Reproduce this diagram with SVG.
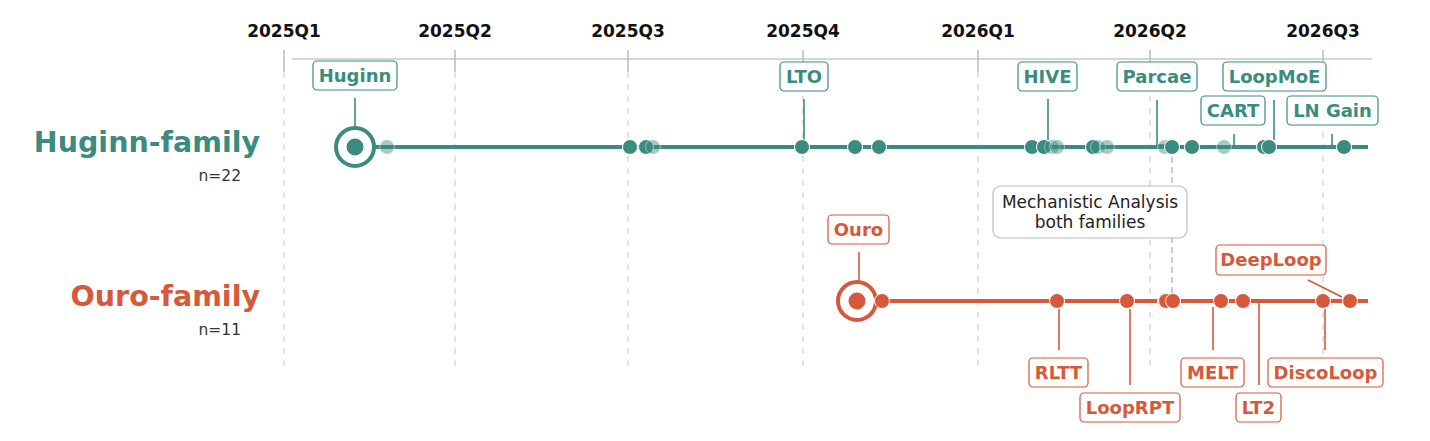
<svg xmlns="http://www.w3.org/2000/svg" width="1430" height="441" viewBox="0 0 1430 441">
<style>
text{font-family:"DejaVu Sans","Liberation Sans",sans-serif}
.q{font-size:17px;font-weight:bold;fill:#111;text-anchor:middle}
.grid{stroke:#cfcfcf;stroke-width:1.2;stroke-dasharray:6,6}
.tick{stroke:#bbb;stroke-width:1.5}
.h{fill:#3b8b7e}
.o{fill:#d5593a}
.hs{stroke:#3b8b7e}
.os{stroke:#d5593a}
.dot{stroke:#fff;stroke-width:1}
.fd{opacity:0.45}
.lbl{font-size:18px;font-weight:bold;text-anchor:middle}
.box{fill:#fff;stroke-width:1.2}
.lead{stroke-width:1.6;fill:none}
.fam{font-size:28.5px;font-weight:bold;text-anchor:end}
.n{font-size:15.5px;fill:#333;text-anchor:end}
</style>
<rect width="1430" height="441" fill="#fff"/>
<g id="axis">
<line x1="292" y1="59" x2="1372" y2="59" stroke="#c8c8c8" stroke-width="1.5"/>
<line class="tick" x1="284" y1="50" x2="284" y2="72"/>
<line class="tick" x1="455" y1="50" x2="455" y2="72"/>
<line class="tick" x1="628" y1="50" x2="628" y2="72"/>
<line class="tick" x1="803" y1="50" x2="803" y2="72"/>
<line class="tick" x1="978" y1="50" x2="978" y2="72"/>
<line class="tick" x1="1150" y1="50" x2="1150" y2="72"/>
<line class="tick" x1="1323" y1="50" x2="1323" y2="72"/>
<line class="grid" x1="284" y1="72" x2="284" y2="372"/>
<line class="grid" x1="455" y1="72" x2="455" y2="372"/>
<line class="grid" x1="628" y1="72" x2="628" y2="372"/>
<line class="grid" x1="803" y1="72" x2="803" y2="372"/>
<line class="grid" x1="978" y1="72" x2="978" y2="372"/>
<line class="grid" x1="1150" y1="72" x2="1150" y2="372"/>
<line class="grid" x1="1323" y1="72" x2="1323" y2="372"/>
<text class="q" x="284" y="37">2025Q1</text>
<text class="q" x="455" y="37">2025Q2</text>
<text class="q" x="628" y="37">2025Q3</text>
<text class="q" x="803" y="37">2025Q4</text>
<text class="q" x="978" y="37">2026Q1</text>
<text class="q" x="1150" y="37">2026Q2</text>
<text class="q" x="1323" y="37">2026Q3</text>
</g>
<g id="row-labels">
<text class="fam h" x="260" y="152">Huginn-family</text>
<text class="n" x="241" y="181">n=22</text>
<text class="fam o" x="260" y="306">Ouro-family</text>
<text class="n" x="241" y="335">n=11</text>
</g>
<g id="connectors">
<line x1="1172" y1="147" x2="1172" y2="301" stroke="#aaa" stroke-width="1.2" stroke-dasharray="6,4"/>
<line class="hs" x1="374" y1="147" x2="1368" y2="147" stroke-width="4"/>
<line class="os" x1="876" y1="301" x2="1368" y2="301" stroke-width="4"/>
<line class="lead hs" x1="355" y1="98" x2="355" y2="140"/>
<line class="lead hs" x1="804" y1="99" x2="804" y2="140"/>
<line class="lead hs" x1="1048" y1="99" x2="1048" y2="140"/>
<polyline class="lead hs" points="1157,100 1157,145 1165,145"/>
<line class="lead hs" x1="1274" y1="100" x2="1274" y2="140"/>
<line class="lead hs" x1="1234" y1="134" x2="1234" y2="147"/>
<line class="lead hs" x1="1332" y1="134" x2="1332" y2="147"/>
<line class="lead os" x1="859" y1="252" x2="859" y2="295"/>
<line class="lead os" x1="1059" y1="309" x2="1059" y2="350"/>
<line class="lead os" x1="1130" y1="309" x2="1130" y2="385"/>
<line class="lead os" x1="1213" y1="307" x2="1213" y2="350"/>
<line class="lead os" x1="1259" y1="301" x2="1259" y2="385"/>
<line class="lead os" x1="1325" y1="309" x2="1325" y2="350"/>
<line class="lead os" x1="1308" y1="280" x2="1342" y2="297"/>
</g>
<g id="huginn-dots">
<circle cx="355" cy="147" r="19" fill="#fff" class="hs" stroke-width="4"/>
<circle cx="355" cy="147" r="8.5" class="h"/>
<circle cx="387" cy="147" r="7.5" class="h dot fd"/>
<circle cx="630" cy="147" r="7.5" class="h dot"/>
<circle cx="646" cy="147" r="7.5" class="h dot"/>
<circle cx="653" cy="147" r="7.5" class="h dot fd"/>
<circle cx="802" cy="147" r="7.5" class="h dot"/>
<circle cx="855" cy="147" r="7.5" class="h dot"/>
<circle cx="879" cy="147" r="7.5" class="h dot"/>
<circle cx="1032" cy="147" r="7.5" class="h dot"/>
<circle cx="1044" cy="147" r="7.5" class="h dot"/>
<circle cx="1052" cy="147" r="7.5" class="h dot fd"/>
<circle cx="1057" cy="147" r="7.5" class="h dot fd"/>
<circle cx="1093" cy="147" r="7.5" class="h dot"/>
<circle cx="1098" cy="147" r="7.5" class="h dot fd"/>
<circle cx="1107" cy="147" r="7.5" class="h dot fd"/>
<circle cx="1165" cy="147" r="7.5" class="h dot fd"/>
<circle cx="1172" cy="147" r="7.5" class="h dot"/>
<circle cx="1192" cy="147" r="7.5" class="h dot"/>
<circle cx="1224" cy="147" r="7.5" class="h dot fd"/>
<circle cx="1264" cy="147" r="7.5" class="h dot"/>
<circle cx="1269" cy="147" r="7.5" class="h dot"/>
<circle cx="1344" cy="147" r="7.5" class="h dot"/>
</g>
<g id="ouro-dots">
<circle cx="857" cy="301" r="19" fill="#fff" class="os" stroke-width="4"/>
<circle cx="857" cy="301" r="8.5" class="o"/>
<circle cx="882" cy="301" r="7.5" class="o dot"/>
<circle cx="1057" cy="301" r="7.5" class="o dot"/>
<circle cx="1127" cy="301" r="7.5" class="o dot"/>
<circle cx="1165" cy="301" r="7.5" class="o dot"/>
<circle cx="1166" cy="301" r="7.5" class="o dot"/>
<circle cx="1173" cy="301" r="7.5" class="o dot"/>
<circle cx="1221" cy="301" r="7.5" class="o dot"/>
<circle cx="1243" cy="301" r="7.5" class="o dot"/>
<circle cx="1323" cy="301" r="7.5" class="o dot"/>
<circle cx="1350" cy="301" r="7.5" class="o dot"/>
</g>
<g id="node-huginn"><rect class="box hs" x="313" y="61" width="84" height="29" rx="4"/><text class="lbl h" x="355" y="82">Huginn</text></g>
<g id="node-lto"><rect class="box hs" x="780" y="62" width="48" height="29" rx="4"/><text class="lbl h" x="804" y="83">LTO</text></g>
<g id="node-hive"><rect class="box hs" x="1018" y="62" width="59" height="29" rx="4"/><text class="lbl h" x="1047.5" y="83">HIVE</text></g>
<g id="node-parcae"><rect class="box hs" x="1117" y="62" width="80" height="29" rx="4"/><text class="lbl h" x="1157" y="83">Parcae</text></g>
<g id="node-loopmoe"><rect class="box hs" x="1223" y="62" width="103" height="29" rx="4"/><text class="lbl h" x="1274.5" y="83">LoopMoE</text></g>
<g id="node-cart"><rect class="box hs" x="1201" y="96" width="64" height="29" rx="4"/><text class="lbl h" x="1233" y="117">CART</text></g>
<g id="node-lngain"><rect class="box hs" x="1287" y="96" width="91" height="29" rx="4"/><text class="lbl h" x="1332.5" y="117">LN Gain</text></g>
<g id="node-mech"><rect x="993" y="186" width="194" height="52" rx="8" fill="#fff" stroke="#bbb" stroke-width="1.2"/><text x="1090" y="208" font-size="17" fill="#222" text-anchor="middle">Mechanistic Analysis</text><text x="1090" y="228" font-size="17" fill="#222" text-anchor="middle">both families</text></g>
<g id="node-ouro"><rect class="box os" x="828" y="215" width="61" height="29" rx="4"/><text class="lbl o" x="858.5" y="236">Ouro</text></g>
<g id="node-deeploop"><rect class="box os" x="1216" y="245" width="110" height="30" rx="4"/><text class="lbl o" x="1271" y="266" font-size="16">DeepLoop</text></g>
<g id="node-rltt"><rect class="box os" x="1029" y="358" width="59" height="29" rx="4"/><text class="lbl o" x="1058.5" y="379">RLTT</text></g>
<g id="node-looprpt"><rect class="box os" x="1080" y="393" width="100" height="29" rx="4"/><text class="lbl o" x="1130" y="414">LoopRPT</text></g>
<g id="node-melt"><rect class="box os" x="1181" y="358" width="63" height="29" rx="4"/><text class="lbl o" x="1212.5" y="379">MELT</text></g>
<g id="node-lt2"><rect class="box os" x="1236" y="393" width="45" height="29" rx="4"/><text class="lbl o" x="1258.5" y="414">LT2</text></g>
<g id="node-discoloop"><rect class="box os" x="1268" y="358" width="115" height="29" rx="4"/><text class="lbl o" x="1325.5" y="379">DiscoLoop</text></g>
</svg>
